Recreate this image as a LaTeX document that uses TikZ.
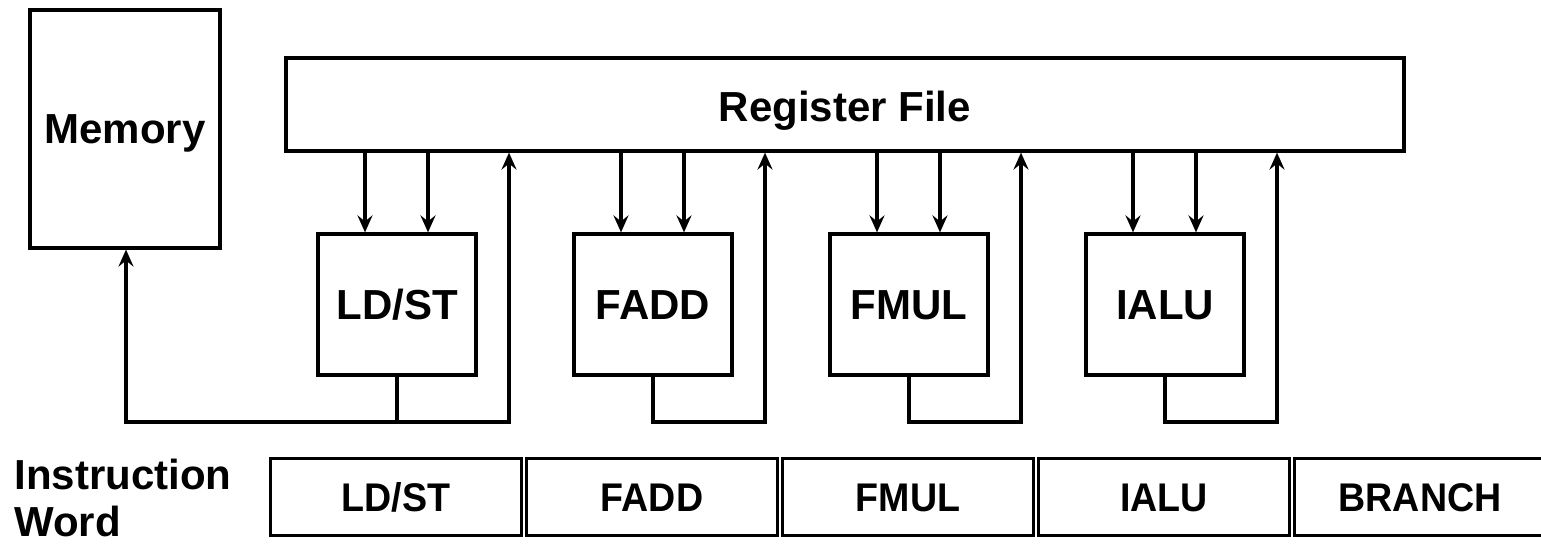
\documentclass[tikz,border=0pt]{standalone}
\usepackage{fontspec}
\setmainfont{Liberation Sans}
\usetikzlibrary{arrows.meta}
\begin{document}
\begin{tikzpicture}[x=0.5pt,y=-0.5pt,
  box/.style={draw, line width=1.6pt, inner sep=0pt, text height=15pt, text depth=0pt, font=\fontsize{21}{25}\selectfont\bfseries},
  unit/.style={box, minimum width=79pt, minimum height=70.5pt},
  cell/.style={draw, line width=1.5pt, inner sep=0pt, text height=14.3pt, text depth=0pt, minimum width=125.2pt, minimum height=38.5pt, font=\fontsize{20}{24}\selectfont\bfseries},
  arr/.style={line width=1.6pt, -{Stealth[length=8.5pt,width=7.5pt,inset=3pt]}},
  wire/.style={line width=1.6pt}]
\useasboundingbox (0,0) rectangle (1541,544);
\node[box, minimum width=95pt, minimum height=119pt] (mem) at (125,129) {Memory};
\node[box, text height=17.5pt, minimum width=559pt, minimum height=46.5pt] (rf) at (845,104.5) {Register File};
\node[unit] (u1) at (397,304.5) {LD/ST};
\node[unit] (u2) at (653,304.5) {FADD};
\node[unit] (u3) at (909,304.5) {FMUL};
\node[unit] (u4) at (1165,304.5) {IALU};
\coordinate (fby) at (0,422);
% operand arrows
\foreach \u in {u1,u2,u3,u4}{
  \draw[arr] ([xshift=-16pt]\u.north |- rf.south) -- ([xshift=-16pt]\u.north);
  \draw[arr] ([xshift=15.5pt]\u.north |- rf.south) -- ([xshift=15.5pt]\u.north);
}
% result paths
\draw[wire] (u1.south) -- (u1.south |- fby);
\draw[arr] ([xshift=56pt]u1.south |- fby) -| ([xshift=0.5pt]mem.south);
\draw[arr] (mem.south |- fby) -| ([xshift=56pt]u1.north |- rf.south);
\foreach \u in {u2,u3,u4}{
  \draw[arr] (\u.south) |- ([xshift=56pt]\u.south |- fby) -- ([xshift=56pt]\u.north |- rf.south);
}
% instruction word
\node[font=\fontsize{21}{25}\selectfont\bfseries, align=left, inner sep=0pt, anchor=west] (iw) at (14,498) {Instruction\\[-1.5pt]Word};
\node[cell] (c1) at (396,497.5) {\scalebox{0.94}[1]{LD/ST}};
\node[cell] (c2) at (652,497.5) {\scalebox{0.94}[1]{FADD}};
\node[cell] (c3) at (908,497.5) {\scalebox{0.94}[1]{FMUL}};
\node[cell] (c4) at (1164,497.5) {\scalebox{0.94}[1]{IALU}};
\node[cell] (c5) at (1420,497.5) {\scalebox{0.94}[1]{BRANCH}};
\end{tikzpicture}
\end{document}
